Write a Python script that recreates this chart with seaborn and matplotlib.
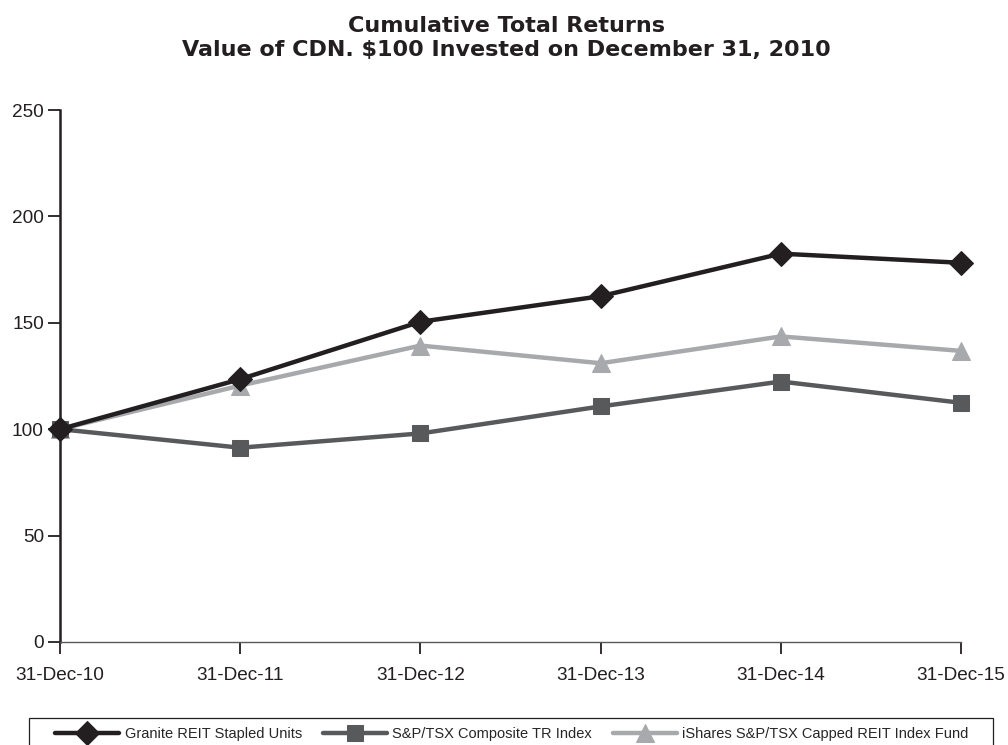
import pandas as pd
import matplotlib.pyplot as plt
import seaborn as sns
from matplotlib import font_manager
from matplotlib.patches import Rectangle

# values
dates = ['31-Dec-10', '31-Dec-11', '31-Dec-12', '31-Dec-13', '31-Dec-14', '31-Dec-15']
granite = [100, 123.5, 150.5, 162.5, 182.5, 178.2]
sptsx = [100, 91.3, 98.0, 110.7, 122.4, 112.4]
ishares = [100, 120.5, 139.3, 131.0, 143.6, 136.8]

series_names = ['Granite REIT Stapled Units', 'S&P/TSX Composite TR Index',
                'iShares S&P/TSX Capped REIT Index Fund']
colors = ['#231f20', '#58595b', '#a7a9ac']
markers = ['D', 's', '^']
msizes = [12, 12, 13]

sns.set_style('white')
plt.rcParams['font.family'] = ['Liberation Sans', 'DejaVu Sans']

# legend uses a narrow face if there is one
installed = {f.name for f in font_manager.fontManager.ttflist}
if 'Liberation Sans Narrow' in installed:
    leg_font = {'family': 'Liberation Sans Narrow', 'size': 12.8}
else:
    leg_font = {'family': 'Liberation Sans', 'size': 10.5}

fig = plt.figure(figsize=(10.08, 7.45), dpi=100)
ax = fig.add_axes([0.0595, 0.1383, 0.894, 0.714])

# light series first so the darker lines sit on top
for name, vals, c, m, ms in reversed(list(zip(series_names, [granite, sptsx, ishares], colors, markers, msizes))):
    df = pd.DataFrame({'x': range(len(dates)), 'y': vals})
    sns.lineplot(data=df, x='x', y='y', ax=ax, color=c, linewidth=3.2, marker=m,
                 markersize=ms, markeredgecolor=c, label=name, legend=False, clip_on=False)

ax.set_xlim(0, 5)
ax.set_ylim(0, 250)
ax.set_yticks([0, 50, 100, 150, 200, 250])
ax.set_xticks(range(len(dates)))
ax.set_xticklabels(dates)
ax.set_xlabel('')
ax.set_ylabel('')
ax.tick_params(axis='both', bottom=True, left=True, labelsize=13.7, length=8.6, width=1.3,
               colors='#231f20', direction='out')
ax.tick_params(axis='x', pad=9.5)
ax.tick_params(axis='y', pad=3)
sns.despine(ax=ax)
ax.spines['left'].set_color('#231f20')
ax.spines['left'].set_linewidth(1.8)
ax.spines['bottom'].set_color('#58595b')
ax.spines['bottom'].set_linewidth(1.0)
for lbl in ax.get_xticklabels() + ax.get_yticklabels():
    lbl.set_color('#231f20')

fig.suptitle('Cumulative Total Returns\nValue of CDN. $100 Invested on December 31, 2010',
             x=0.502, y=0.978, fontsize=16, fontweight='bold', color='#231f20',
             linespacing=1.2, family='DejaVu Sans')

handles, labels = ax.get_legend_handles_labels()
order = [labels.index(n) for n in series_names]
leg = fig.legend([handles[i] for i in order], [labels[i] for i in order],
                 loc='center', bbox_to_anchor=(0.508, 0.0148), ncol=3,
                 prop=leg_font, frameon=False, handlelength=46 / leg_font['size'],
                 handletextpad=0.4, borderpad=0.2, columnspacing=1.4)

# legend box, bottom edge runs off the page like the original
fig.patches.append(Rectangle((29 / 1008, -0.05), 964 / 1008, 0.05 + 27 / 745,
                             transform=fig.transFigure, fill=False,
                             edgecolor='#231f20', linewidth=0.9))

fig.savefig('out.png', dpi=100)
